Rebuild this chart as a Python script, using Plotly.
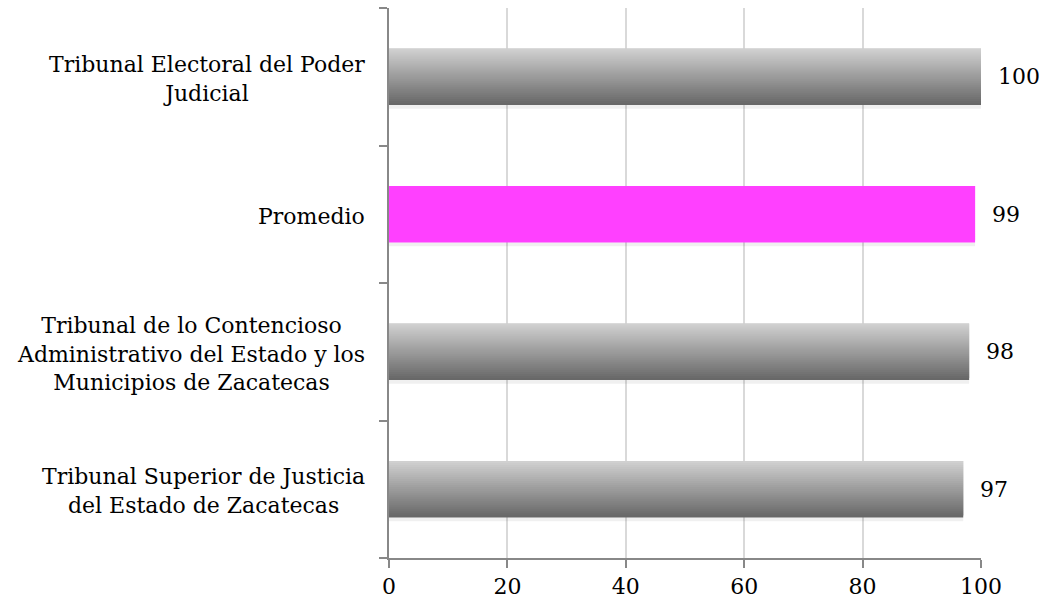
import plotly.graph_objects as go
import numpy as np

categories = [
    "Tribunal Superior de Justicia<br>del Estado de Zacatecas",
    "Tribunal de lo Contencioso<br>Administrativo del Estado y los<br>Municipios de Zacatecas",
    "Promedio",
    "Tribunal Electoral del Poder<br>Judicial",
]
values = [97, 98, 99, 100]
highlight = [False, False, True, False]
x_ticks = [0, 20, 40, 60, 80, 100]

FONT = "DejaVu Serif"
FS = 22
fig = go.Figure()

bar_w = 0.41
n_strips = 28
ypos = list(range(len(categories)))
light = np.array([208, 208, 208])
dark = np.array([104, 104, 104])

# soft shadow under bars
fig.add_trace(go.Bar(
    y=ypos, x=values, orientation="h", width=0.03, offset=-bar_w / 2 - 0.028,
    marker=dict(color="rgba(0,0,0,0.06)", line=dict(width=0)),
    hoverinfo="skip", showlegend=False))

sw = bar_w / n_strips
for i in range(n_strips):
    t = i / (n_strips - 1)
    c = dark + (light - dark) * t
    gray = "rgb(%d,%d,%d)" % tuple(c.astype(int))
    colors = ["#FF40FF" if h else gray for h in highlight]
    w = sw * 2.0 if i < n_strips - 1 else sw
    fig.add_trace(go.Bar(
        y=ypos, x=values, orientation="h", width=w, offset=-bar_w / 2 + i * sw,
        marker=dict(color=colors, line=dict(width=0)),
        hoverinfo="skip", showlegend=False))

for yp, v in zip(ypos, values):
    fig.add_annotation(x=v, y=yp, xref="x", yref="y", text=str(v), showarrow=False,
                       xanchor="left", xshift=15, font=dict(family=FONT, size=FS, color="#000"))

for yp, c in zip(ypos, categories):
    fig.add_annotation(x=0, y=yp, xref="paper", yref="y", text=c, showarrow=False,
                       xanchor="right", xshift=-22, yshift=-2, align="center",
                       font=dict(family=FONT, size=FS, color="#000"))

fig.update_layout(
    width=1046, height=610,
    margin=dict(l=389, r=65, t=8, b=52),
    paper_bgcolor="white", plot_bgcolor="white",
    barmode="overlay",
    font=dict(family=FONT, size=FS, color="#000"),
    xaxis=dict(range=[0, 100], tickvals=x_ticks, showgrid=True, gridcolor="#d9d9d9", gridwidth=1.5,
               zeroline=False, showline=True, linecolor="#888888", linewidth=1.5,
               ticks="outside", ticklen=8, tickcolor="#888888", tickwidth=1.5,
               tickfont=dict(family=FONT, size=FS, color="#000")),
    yaxis=dict(range=[-0.5, 3.5], tickvals=[-0.5, 0.5, 1.5, 2.5, 3.5], showticklabels=False,
               showgrid=False, zeroline=False, showline=True, linecolor="#888888", linewidth=1.5,
               ticks="outside", ticklen=8, tickcolor="#888888", tickwidth=1.5),
)

fig.write_html("out.html", config={"displayModeBar": False},
               post_script="document.body.style.margin='0';document.body.style.overflow='hidden';")
